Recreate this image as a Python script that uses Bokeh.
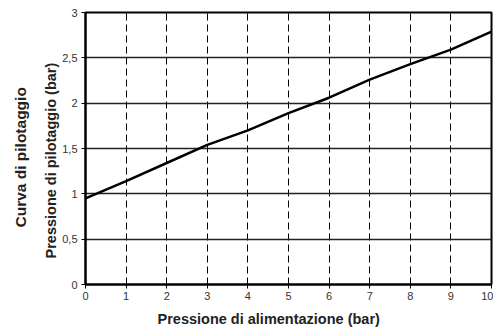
from bokeh.plotting import figure
from bokeh.models import Range1d, FixedTicker, Title, CustomJSTickFormatter
from bokeh.embed import file_html
from bokeh.resources import INLINE

alimentazione = [0, 1, 2, 3, 4, 5, 6, 7, 8, 9, 10]
pilotaggio = [0.95, 1.14, 1.34, 1.54, 1.70, 1.89, 2.06, 2.26, 2.43, 2.59, 2.79]
x_ticks = [0, 1, 2, 3, 4, 5, 6, 7, 8, 9, 10]
y_ticks = [0, 0.5, 1, 1.5, 2, 2.5, 3]

p = figure(width=493, height=333, output_backend="svg", toolbar_location=None,
           x_range=Range1d(0, 10), y_range=Range1d(0, 3),
           min_border_top=12, min_border_right=2, min_border_bottom=49, min_border_left=85)

p.line(alimentazione, pilotaggio, line_color="black", line_width=2.5)

font = "Liberation Sans"
p.xaxis.ticker = FixedTicker(ticks=x_ticks)
p.yaxis.ticker = FixedTicker(ticks=y_ticks)
p.yaxis.formatter = CustomJSTickFormatter(code="return tick.toString().replace('.', ',');")

for ax in (p.xaxis, p.yaxis):
    ax.axis_line_color = "black"
    ax.axis_line_width = 2
    ax.major_tick_line_color = "black"
    ax.major_tick_in = 0
    ax.major_tick_out = 4
    ax.minor_tick_line_color = None
    ax.major_label_text_font = font
    ax.major_label_text_font_size = "11px"
    ax.major_label_text_color = "#333333"

p.xaxis.major_label_standoff = 3
p.yaxis.major_label_standoff = 4

p.add_layout(Title(text="Pressione di alimentazione (bar)", align="left", offset=72,
                   text_font=font, text_font_size="14.5px", text_font_style="bold",
                   text_color="#222222", standoff=12), "below")
p.add_layout(Title(text="Pressione di pilotaggio (bar)", align="left", offset=26,
                   text_font=font, text_font_size="14.5px", text_font_style="bold",
                   text_color="#222222", standoff=1), "left")
p.add_layout(Title(text="Curva di pilotaggio", align="left", offset=57,
                   vertical_align="top",
                   text_font=font, text_font_size="15.5px", text_font_style="bold",
                   text_color="#222222", standoff=20), "left")

p.xgrid.grid_line_color = "black"
p.xgrid.grid_line_dash = "7 4"
p.xgrid.grid_line_width = 1
p.ygrid.grid_line_color = "#222222"
p.ygrid.grid_line_width = 1.5

p.outline_line_color = "black"
p.outline_line_width = 2
p.outline_line_alpha = 1

open("out.html", "w").write(file_html(p, INLINE))
